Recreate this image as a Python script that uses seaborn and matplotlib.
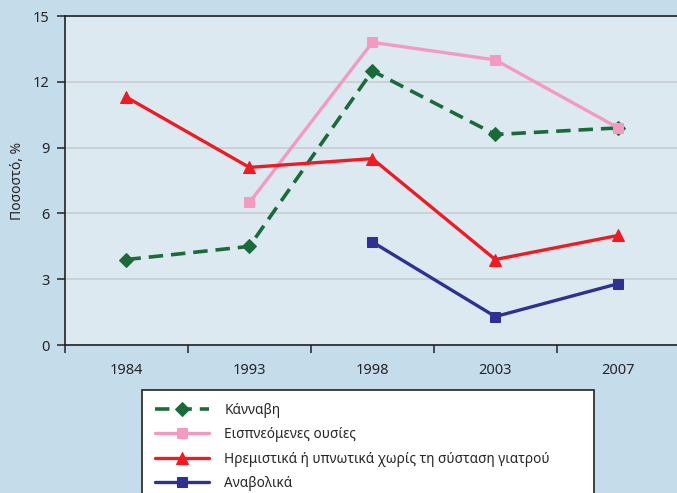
import numpy as np
import pandas as pd
import matplotlib
matplotlib.use("Agg")
import matplotlib.pyplot as plt
import seaborn as sns

years = ["1984", "1993", "1998", "2003", "2007"]
cannabis = [3.9, 4.5, 12.5, 9.6, 9.9]
inhalants = [np.nan, 6.5, 13.8, 13.0, 9.9]
sedatives = [11.3, 8.1, 8.5, 3.9, 5.0]
anabolics = [np.nan, np.nan, 4.7, 1.3, 2.8]

labels = ["Κάνναβη", "Εισπνεόμενες ουσίες",
          "Ηρεμιστικά ή υπνωτικά χωρίς τη σύσταση γιατρού", "Αναβολικά"]

sns.set_style("white")
plt.rcParams['font.family'] = ['Noto Sans', 'DejaVu Sans']

fig = plt.figure(figsize=(6.77, 4.93), dpi=100)
fig.patch.set_facecolor('#c5dcea')
ax = fig.add_axes([0.096, 0.300, 0.908, 0.6675])
ax.set_facecolor('#dce9f1')

series = [
    (cannabis, labels[0], '#1b6b3a', 'D', (4, 2.2), 7, 2.6),
    (inhalants, labels[1], '#f49ac1', 's', None, 7, 2.4),
    (sedatives, labels[2], '#ed1c24', '^', None, 8, 2.4),
    (anabolics, labels[3], '#2e3192', 's', None, 7, 2.4),
]

for vals, lab, col, mk, dash, ms, lw in series:
    df = pd.DataFrame({'x': np.arange(len(years)), 'y': vals}).dropna()
    sns.lineplot(data=df, x='x', y='y', ax=ax, color=col, marker=mk,
                 markersize=ms, markeredgecolor=col, linewidth=lw,
                 label=lab, legend=False)
    if dash is not None:
        ax.lines[-1].set_dashes(dash)

ax.set_xlim(-0.5, 4.5)
ax.set_ylim(0, 15)
ax.set_yticks([0, 3, 6, 9, 12, 15])
ax.set_xticks(np.arange(len(years)))
ax.set_xticklabels(years)
ax.set_xticks(np.arange(-0.5, 5, 1), minor=True)
ax.tick_params(axis='x', which='major', length=0, pad=13, labelsize=10.5,
               bottom=True)
ax.tick_params(axis='x', which='minor', length=6, width=1.1, direction='out',
               color='#222222', bottom=True)
ax.tick_params(axis='y', length=6, width=1.1, direction='out', labelsize=10.5,
               color='#222222', left=True, pad=5)
ax.yaxis.grid(True, color='#c8cdd2', linewidth=1.2)
ax.set_axisbelow(True)
ax.set_xlabel('')
ax.set_ylabel('Ποσοστό, %', fontsize=10, labelpad=6)
for s in ax.spines.values():
    s.set_color('#222222')
    s.set_linewidth(1.2)

handles, lbls = ax.get_legend_handles_labels()
leg = fig.legend(handles, lbls, loc='upper left',
                 bbox_to_anchor=(142 / 677, 1 - 395 / 493, (594 - 142) / 677, 0.01),
                 mode='expand', borderaxespad=0,
                 frameon=True, fancybox=False, fontsize=9.8, framealpha=1,
                 facecolor='white', handlelength=4.0, handletextpad=1.1,
                 borderpad=0.95, labelspacing=0.68)
leg.get_frame().set_edgecolor('#222222')
leg.get_frame().set_linewidth(1.2)

fig.savefig('out.png', dpi=100, facecolor=fig.get_facecolor())
